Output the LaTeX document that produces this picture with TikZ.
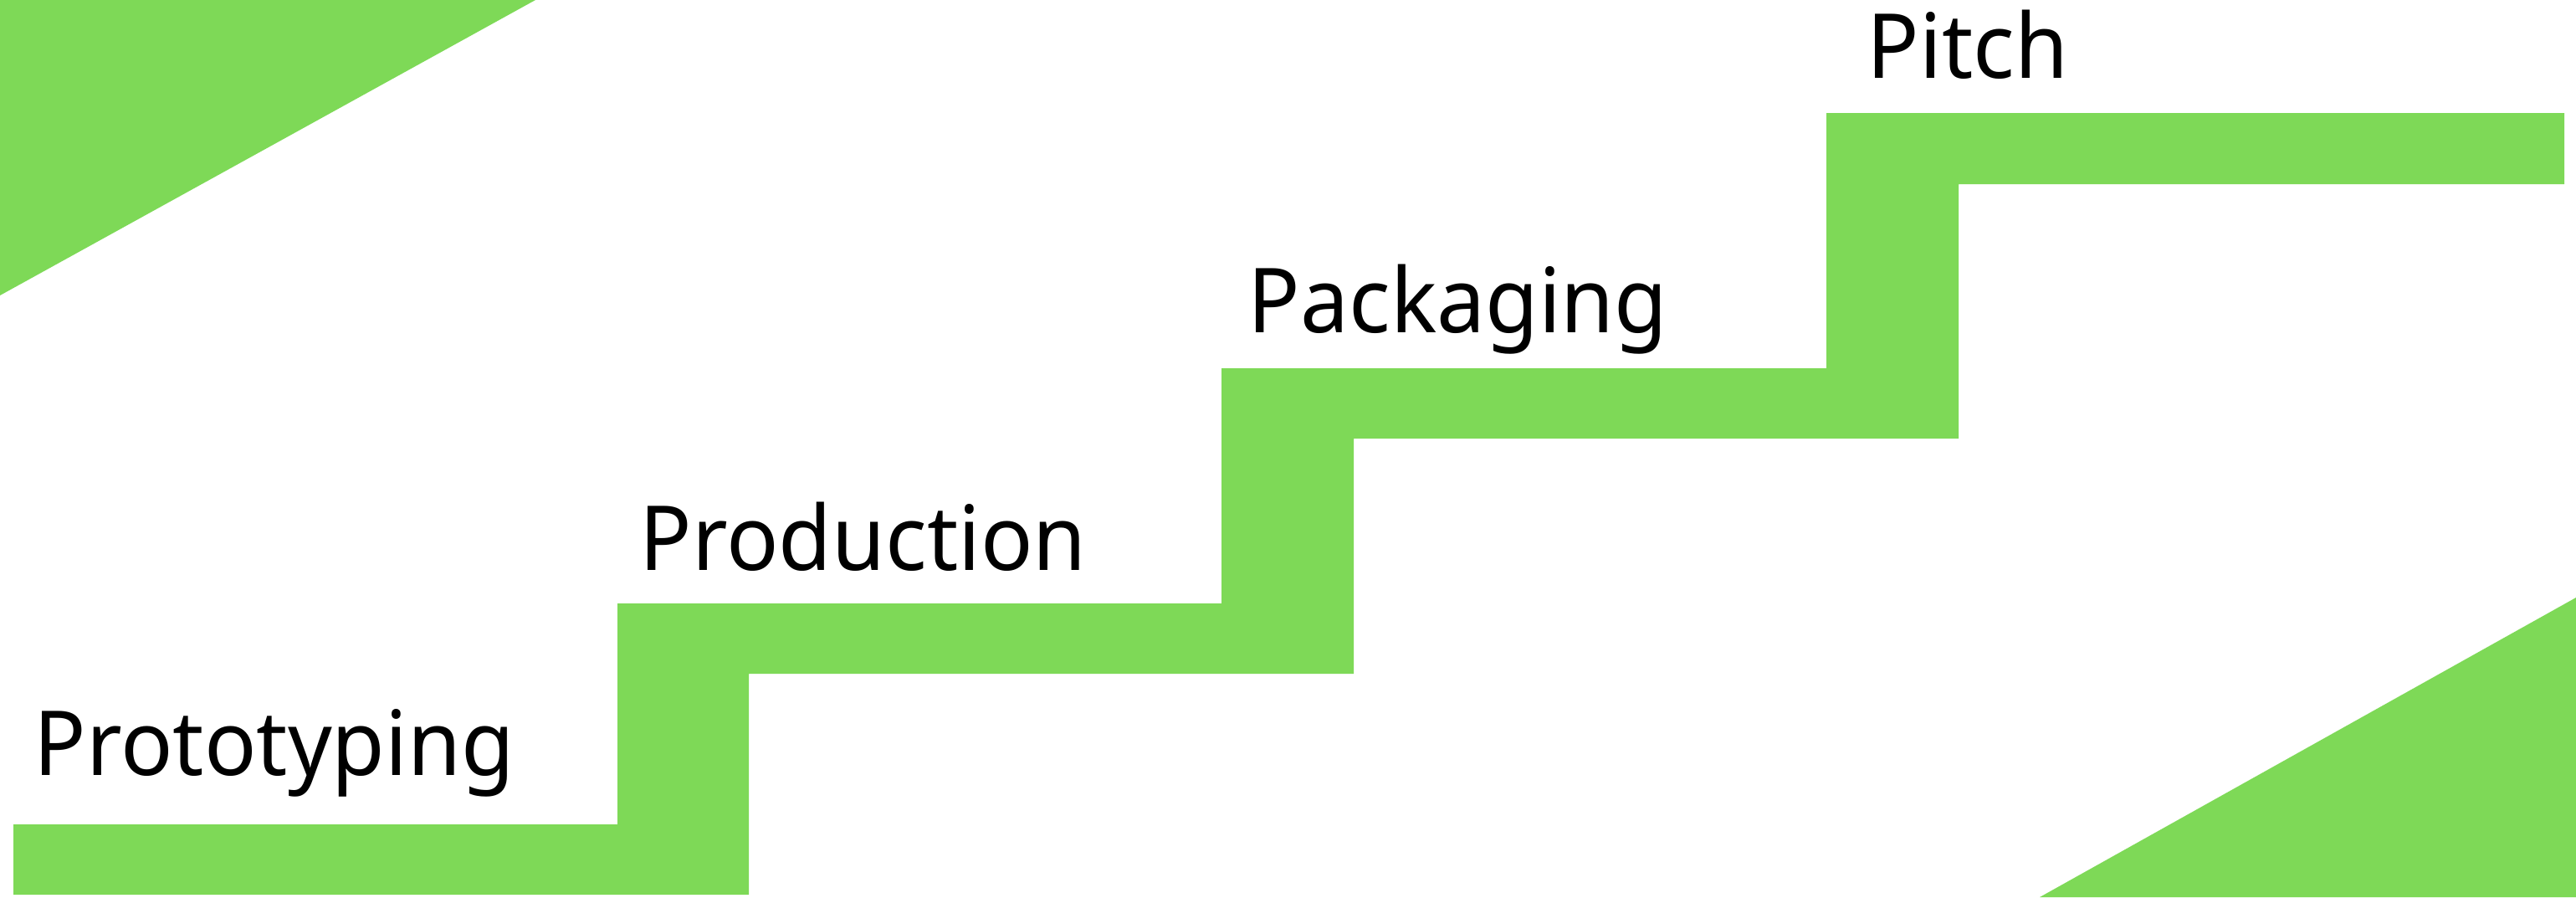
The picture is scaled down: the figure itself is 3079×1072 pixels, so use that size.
\documentclass[tikz,border=0pt]{standalone}
\usepackage{fontspec}
\setmainfont{Noto Sans}[FakeStretch=0.965]
\definecolor{stairgreen}{HTML}{7ED957}
\begin{document}
\begin{tikzpicture}[x=0.01cm,y=-0.01cm,
  stairfill/.style={fill=stairgreen,draw=none},
  steplabel/.style={anchor=base west,inner sep=0pt,font=\fontsize{30.5}{36}\selectfont,text=black}]
\useasboundingbox (0,0) rectangle (3079,1072);
% corner triangles
\fill[stairgreen] (0,0) -- (640,0) -- (0,353) -- cycle;
\fill[stairgreen] (3079,714) -- (3079,1072) -- (2438,1072) -- cycle;
% staircase
\path[stairfill] (16,1069) -- (895,1069) -- (895,805) -- (1618,805) -- (1618,524)
  -- (2341,524) -- (2341,220) -- (3065,220) -- (3065,135) -- (2183,135)
  -- (2183,440) -- (1460,440) -- (1460,721) -- (738,721) -- (738,985)
  -- (16,985) -- cycle;
% labels
\node[steplabel] (proto) at (40,926) {Prototyping};
\node[steplabel] (prod) at (764,681) {Production};
\node[steplabel] (pack) at (1491,397) {Packaging};
\node[steplabel] (pitch) at (2231,93) {Pitch};
\end{tikzpicture}
\end{document}
